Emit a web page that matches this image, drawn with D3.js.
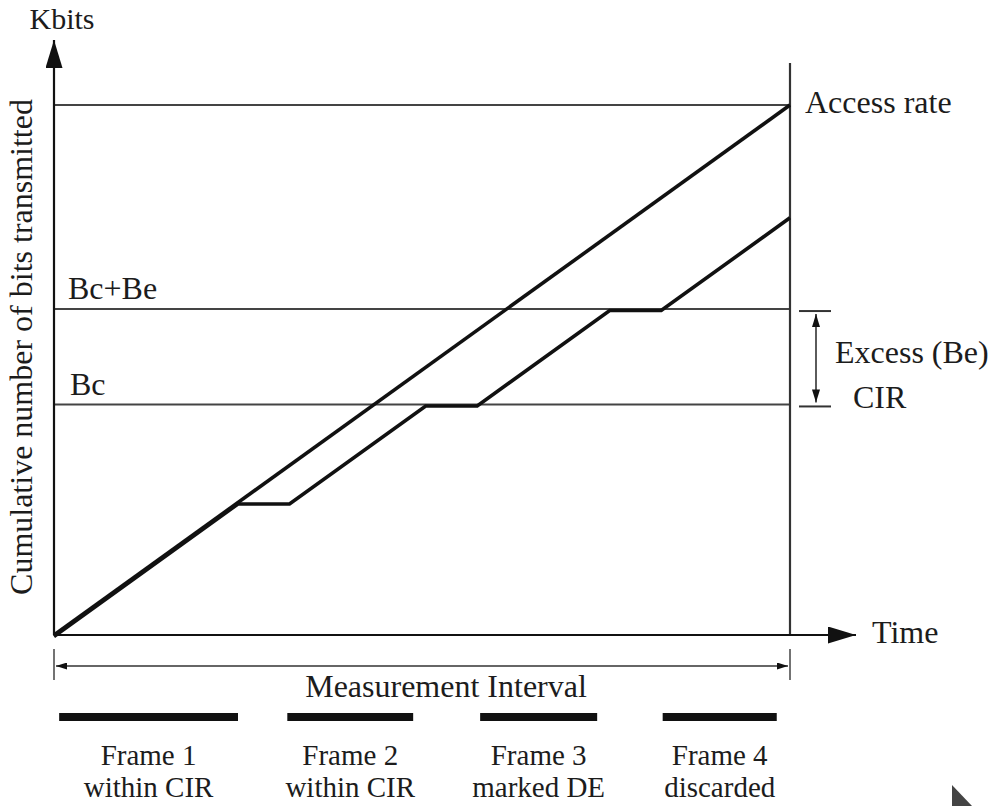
<!DOCTYPE html>
<html>
<head>
<meta charset="utf-8">
<script src="https://cdn.jsdelivr.net/npm/d3@7"></script>
<style>
  html, body { margin: 0; padding: 0; background: #fff; }
  svg { display: block; }
</style>
</head>
<body>
<script>
// Cumulative bits sent vs. time over one measurement interval (frame relay CIR / Be policing)
const timeDomain = [0, 100];
const kbitsDomain = [0, 100];

// Line at the full access rate
const accessTime = [0, 100];
const accessKbits = [0, 100];

// Bits actually carried: pauses between frames show up as flat steps
const sentTime = [0, 25, 32, 50.5, 57.5, 75.5, 82.5, 100];
const sentKbits = [0, 25, 25, 43.5, 43.5, 61.5, 61.5, 79];

// Threshold levels
const levelNames = ["Bc", "Bc+Be", "Access rate"];
const levelKbits = [43.5, 61.5, 100];

// Frames sent during the interval
const frameNames = ["Frame 1", "Frame 2", "Frame 3", "Frame 4"];
const frameStatus = ["within CIR", "within CIR", "marked DE", "discarded"];
const frameStart = [0.7, 31.7, 57.9, 82.7];
const frameEnd = [25, 48.8, 73.8, 98.2];

const W = 999, H = 806;
const svg = d3.select("body").append("svg").attr("width", W).attr("height", H)
  .attr("font-family", "'Liberation Serif', 'Times New Roman', Times, 'DejaVu Serif', serif");

const x = d3.scaleLinear().domain(timeDomain).range([54, 790]);
const y = d3.scaleLinear().domain(kbitsDomain).range([635, 105]);

const FS = 32;
const FS_FRAME = 29;
const ink = "#111";
const textInk = "#1c1c1c";

const defs = svg.append("defs");
function marker(id, len, half) {
  defs.append("marker")
    .attr("id", id).attr("viewBox", `0 ${-half} ${len} ${2 * half}`)
    .attr("refX", len).attr("refY", 0)
    .attr("markerWidth", len).attr("markerHeight", 2 * half)
    .attr("markerUnits", "userSpaceOnUse")
    .attr("orient", "auto-start-reverse")
    .append("path").attr("d", `M0,${-half}L${len},0L0,${half}Z`).attr("fill", ink);
}
marker("axisHead", 28, 8.5);
marker("smallHead", 11, 3.5);
marker("beHead", 13, 4);

function label(xp, yp, s, anchor, size) {
  return svg.append("text").attr("x", xp).attr("y", yp)
    .attr("text-anchor", anchor || "start")
    .attr("font-size", size || FS).attr("fill", textInk).text(s);
}

// Horizontal threshold lines
svg.append("g").selectAll("line").data(levelKbits).join("line")
  .attr("x1", x(timeDomain[0])).attr("x2", x(timeDomain[1]))
  .attr("y1", d => y(d)).attr("y2", d => y(d))
  .attr("stroke", "#444").attr("stroke-width", 2);

// End of the measurement interval
svg.append("line")
  .attr("x1", x(timeDomain[1])).attr("x2", x(timeDomain[1]))
  .attr("y1", y(kbitsDomain[0])).attr("y2", 63)
  .attr("stroke", "#333").attr("stroke-width", 2.2);

// Axes
svg.append("line")
  .attr("x1", x(0)).attr("y1", y(0)).attr("x2", x(0)).attr("y2", 40)
  .attr("stroke", ink).attr("stroke-width", 2.2).attr("marker-end", "url(#axisHead)");
svg.append("line")
  .attr("x1", x(0)).attr("y1", y(0)).attr("x2", 856).attr("y2", y(0))
  .attr("stroke", ink).attr("stroke-width", 2.2).attr("marker-end", "url(#axisHead)");

const line = d3.line().x(d => x(d[0])).y(d => y(d[1]));

svg.append("path")
  .datum(accessTime.map((t, i) => [t, accessKbits[i]]))
  .attr("d", line).attr("fill", "none").attr("stroke", ink).attr("stroke-width", 3.6);

svg.append("path")
  .datum(sentTime.map((t, i) => [t, sentKbits[i]]))
  .attr("d", line).attr("fill", "none").attr("stroke", ink).attr("stroke-width", 3.6)
  .attr("stroke-linejoin", "miter")
  .attr("transform", "translate(0,1.5)");

// Axis titles
label(62, 29, "Kbits", "middle", 30);
label(872, 643, "Time");
svg.append("text")
  .attr("transform", "translate(32,347) rotate(-90)")
  .attr("text-anchor", "middle").attr("font-size", FS).attr("fill", textInk)
  .text("Cumulative number of bits transmitted");

// Level labels
label(805, 113, levelNames[2]);
label(68, y(levelKbits[1]) - 10, levelNames[1]);
label(70, y(levelKbits[0]) - 9, levelNames[0]);

// Excess burst bracket
const bx = 816;
[levelKbits[1], levelKbits[0]].forEach(v => {
  svg.append("line").attr("x1", 799).attr("x2", 831)
    .attr("y1", y(v) + 2).attr("y2", y(v) + 2)
    .attr("stroke", "#333").attr("stroke-width", 2);
});
svg.append("line")
  .attr("x1", bx).attr("x2", bx)
  .attr("y1", y(levelKbits[1]) + 5).attr("y2", y(levelKbits[0]) - 2)
  .attr("stroke", "#333").attr("stroke-width", 1.6)
  .attr("marker-start", "url(#beHead)").attr("marker-end", "url(#beHead)");
label(835, 363, "Excess (Be)");
label(853, 408, "CIR");

// Measurement interval
const my = 666;
[timeDomain[0], timeDomain[1]].forEach(t => {
  svg.append("line").attr("x1", x(t)).attr("x2", x(t)).attr("y1", 649).attr("y2", 680)
    .attr("stroke", "#444").attr("stroke-width", 1.5);
});
svg.append("line")
  .attr("x1", x(timeDomain[0]) + 2).attr("x2", x(timeDomain[1]) - 2)
  .attr("y1", my).attr("y2", my)
  .attr("stroke", "#333").attr("stroke-width", 1.5)
  .attr("marker-start", "url(#smallHead)").attr("marker-end", "url(#smallHead)");
label(446, 697, "Measurement Interval", "middle");

// Frame bars and labels
const frames = frameNames.map((n, i) => ({ name: n, status: frameStatus[i], start: frameStart[i], end: frameEnd[i] }));
const fg = svg.append("g").selectAll("g").data(frames).join("g");
fg.append("line")
  .attr("x1", d => x(d.start)).attr("x2", d => x(d.end))
  .attr("y1", 717).attr("y2", 717)
  .attr("stroke", ink).attr("stroke-width", 8);
fg.append("text")
  .attr("x", d => x((d.start + d.end) / 2)).attr("y", 765)
  .attr("text-anchor", "middle").attr("font-size", FS_FRAME).attr("fill", textInk).text(d => d.name);
fg.append("text")
  .attr("x", d => x((d.start + d.end) / 2)).attr("y", 797)
  .attr("text-anchor", "middle").attr("font-size", FS_FRAME).attr("fill", textInk).text(d => d.status);

// Corner pointer glyph
svg.append("path").attr("d", "M952,785L952,806L972,806Z").attr("fill", "#444");
</script>
</body>
</html>
